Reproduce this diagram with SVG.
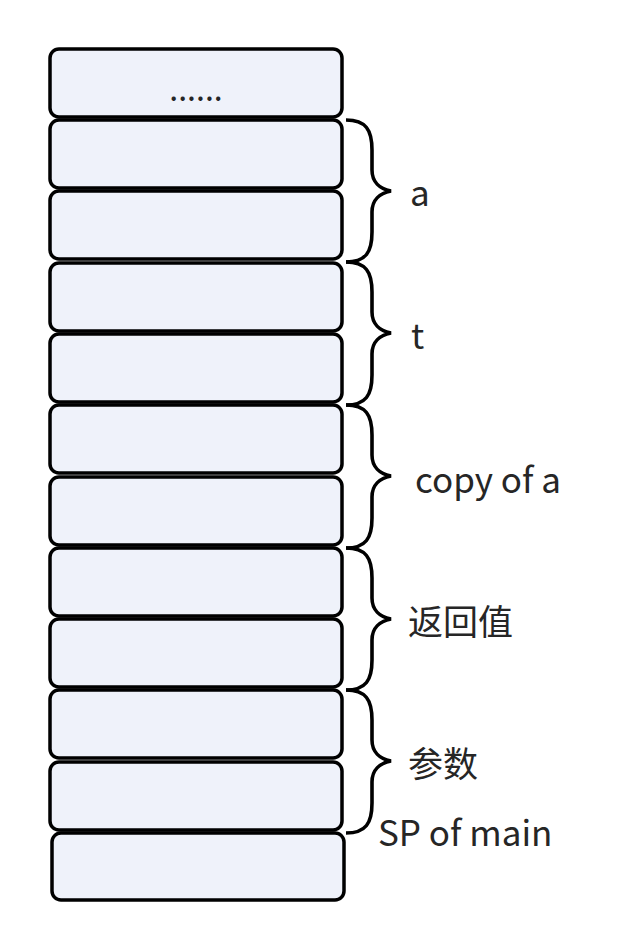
<svg xmlns="http://www.w3.org/2000/svg" width="636" height="952" viewBox="0 0 636 952">
<style>
.box{fill:#eff2fa;stroke:#000;stroke-width:3.5}
.br{fill:none;stroke:#000;stroke-width:3.6;stroke-linejoin:miter}
.lbl{font-family:"Noto Sans CJK SC","Noto Sans",sans-serif;font-size:35px;fill:#262626}
.dots{font-family:"Noto Sans CJK SC","Noto Sans",sans-serif;font-size:32px;fill:#262626;text-anchor:middle}
</style>
<rect width="636" height="952" fill="#fff"/>
<g id="nodes">
<g id="n0"><rect class="box" x="50" y="49" width="292" height="68" rx="9"/><text class="dots" x="196" y="101">......</text></g>
<g id="n1"><rect class="box" x="50" y="120" width="292" height="68" rx="9"/></g>
<g id="n2"><rect class="box" x="50" y="191" width="292" height="68" rx="9"/></g>
<g id="n3"><rect class="box" x="50" y="263" width="292" height="68" rx="9"/></g>
<g id="n4"><rect class="box" x="50" y="334" width="292" height="68" rx="9"/></g>
<g id="n5"><rect class="box" x="50" y="405" width="292" height="68" rx="9"/></g>
<g id="n6"><rect class="box" x="50" y="477" width="292" height="68" rx="9"/></g>
<g id="n7"><rect class="box" x="50" y="548" width="292" height="68" rx="9"/></g>
<g id="n8"><rect class="box" x="50" y="619" width="292" height="68" rx="9"/></g>
<g id="n9"><rect class="box" x="50" y="690" width="292" height="68" rx="9"/></g>
<g id="n10"><rect class="box" x="50" y="762" width="292" height="68" rx="9"/></g>
<g id="n11"><rect class="box" x="52" y="833" width="292" height="67" rx="9"/></g>
</g>
<g id="connectors">
<path class="br" d="M346,120 C366,120 372,130 372,150 L372,170 C372,182 380,189 391,191 C380,193 372,200 372,212 L372,232 C372,252 366,262 346,262"/>
<path class="br" d="M346,262 C366,262 372,272 372,292 L372,312 C372,324 380,331 391,333 C380,335 372,342 372,354 L372,375 C372,395 366,405 346,405"/>
<path class="br" d="M346,405 C366,405 372,415 372,435 L372,455 C372,467 380,474 391,476 C380,478 372,485 372,497 L372,518 C372,538 366,548 346,548"/>
<path class="br" d="M346,548 C366,548 372,558 372,578 L372,598 C372,610 380,617 391,619 C380,621 372,628 372,640 L372,660 C372,680 366,690 346,690"/>
<path class="br" d="M346,690 C366,690 372,700 372,720 L372,740 C372,752 380,759 391,761 C380,763 372,770 372,782 L372,803 C372,823 366,833 346,833"/>
</g>
<g id="labels">
<text class="lbl" x="410" y="206">a</text>
<text class="lbl" x="411" y="349">t</text>
<text class="lbl" x="415" y="493">copy of a</text>
<text class="lbl" x="408" y="635">返回值</text>
<text class="lbl" x="408" y="777">参数</text>
<text class="lbl" x="378" y="846">SP of main</text>
</g>
</svg>
